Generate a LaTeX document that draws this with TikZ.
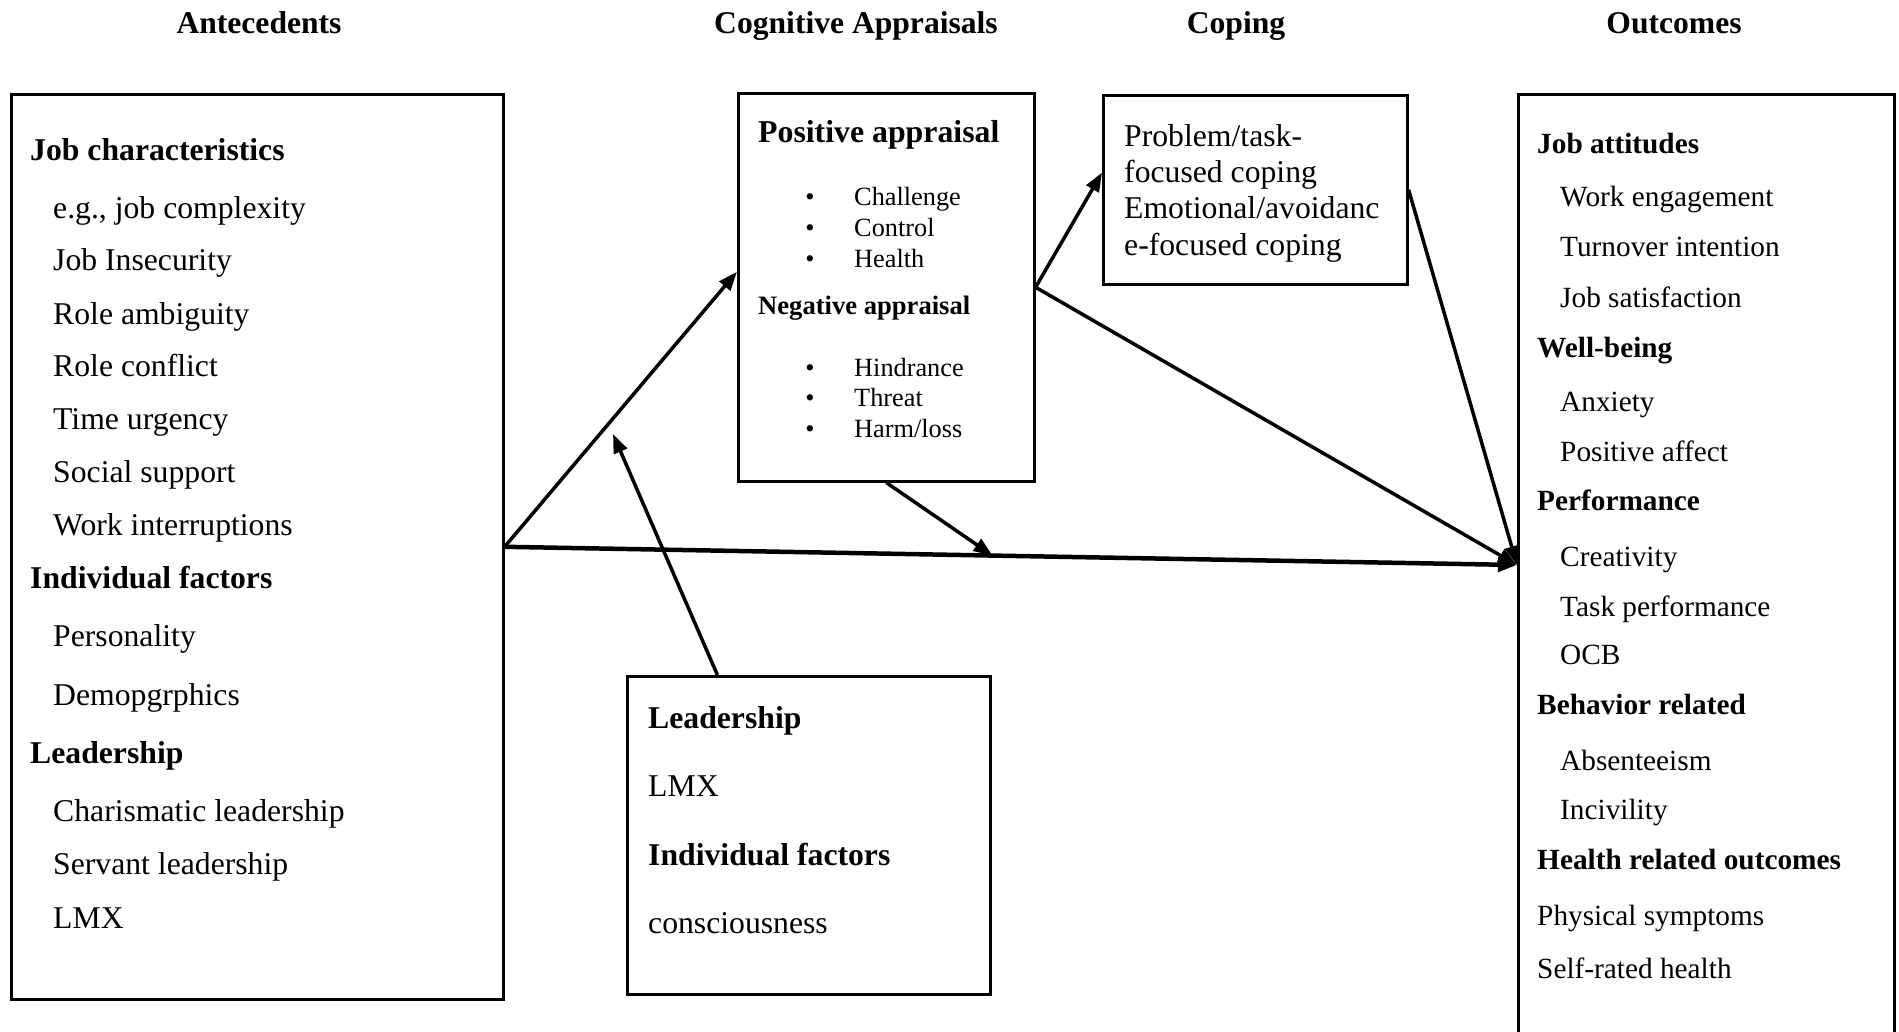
\documentclass[tikz,border=0pt]{standalone}
\usepackage{fontspec}
\setmainfont{Liberation Serif}
\usetikzlibrary{arrows.meta,calc}

\tikzset{
  box/.style={draw, line width=2.6pt, inner sep=0pt, anchor=north west},
  txt/.style={inner sep=0pt, anchor=west, text depth=0pt},
  heading/.style={inner sep=0pt, anchor=center, text height=22pt, text depth=0pt,
    font=\fontsize{31.6}{38}\selectfont\bfseries},
  bighead/.style={txt, text height=21pt, font=\fontsize{31.7}{38}\selectfont\bfseries},
  bigitem/.style={txt, text height=21pt, font=\fontsize{31.7}{38}\selectfont},
  outhead/.style={txt, text height=19pt, font=\fontsize{29.3}{35}\selectfont\bfseries},
  outitem/.style={txt, text height=19pt, font=\fontsize{29.3}{35}\selectfont},
  midhead/.style={txt, text height=17pt, font=\fontsize{26.6}{32}\selectfont\bfseries},
  miditem/.style={txt, text height=17pt, font=\fontsize{26.3}{32}\selectfont},
  dot/.style={inner sep=0pt, anchor=center, text height=17pt, text depth=0pt,
    font=\fontsize{26.3}{32}\selectfont},
  arr/.style={line width=3.5pt, -{Triangle[length=19pt,width=14pt]}}
}

\begin{document}
\begin{tikzpicture}[x=1pt,y=-1pt]
\useasboundingbox (0,0) rectangle (1899,1032);
\clip (0,0) rectangle (1899,1032);

% column headings
\node[heading] (h1) at (259,23) {Antecedents};
\node[heading] (h2) at (856,23) {Cognitive Appraisals};
\node[heading] (h3) at (1236,23) {Coping};
\node[heading] (h4) at (1674,23) {Outcomes};

% frames
\node[box, minimum width=492pt, minimum height=905pt] (ante) at (10,93) {};
\node[box, minimum width=296pt, minimum height=388pt] (cog) at (737,92) {};
\node[box, minimum width=304pt, minimum height=189pt] (cope) at (1102,94) {};
\node[box, minimum width=363pt, minimum height=318pt] (lead) at (626,675) {};
\node[box, minimum width=376pt, minimum height=1000pt] (outc) at (1517,93) {};

% antecedents
\node[bighead] (a1) at (30,150) {Job characteristics};
\node[bigitem] (a2) at (53,208) {e.g., job complexity};
\node[bigitem] (a3) at (53,260) {Job Insecurity};
\node[bigitem] (a4) at (53,314) {Role ambiguity};
\node[bigitem] (a5) at (53,366) {Role conflict};
\node[bigitem] (a6) at (53,419) {Time urgency};
\node[bigitem] (a7) at (53,472) {Social support};
\node[bigitem] (a8) at (53,525) {Work interruptions};
\node[bighead] (a9) at (30,578) {Individual factors};
\node[bigitem] (a10) at (53,636) {Personality};
\node[bigitem] (a11) at (53,695) {Demopgrphics};
\node[bighead] (a12) at (30,753) {Leadership};
\node[bigitem] (a13) at (53,811) {Charismatic leadership};
\node[bigitem] (a14) at (53,864) {Servant leadership};
\node[bigitem] (a15) at (53,918) {LMX};

% cognitive appraisals
\node[txt, text height=21pt, font=\fontsize{31.8}{38}\selectfont\bfseries] (c1) at (758,132) {Positive appraisal};
\node[dot] (b1) at (810,197) {•};
\node[miditem] (c2) at (854,197) {Challenge};
\node[dot] (b2) at (810,228) {•};
\node[miditem] (c3) at (854,228) {Control};
\node[dot] (b3) at (810,259) {•};
\node[miditem] (c4) at (854,259) {Health};
\node[midhead] (c5) at (758,306) {Negative appraisal};
\node[dot] (b4) at (810,368) {•};
\node[miditem] (c6) at (854,368) {Hindrance};
\node[dot] (b5) at (810,398) {•};
\node[miditem] (c7) at (854,398) {Threat};
\node[dot] (b6) at (810,429) {•};
\node[miditem] (c8) at (854,429) {Harm/loss};

% coping
\node[bigitem] (k1) at (1124,136) {Problem/task-};
\node[bigitem] (k2) at (1124,172) {focused coping};
\node[bigitem] (k3) at (1124,208) {Emotional/avoidanc};
\node[bigitem] (k4) at (1124,245) {e-focused coping};

% moderators
\node[bighead] (m1) at (648,718) {Leadership};
\node[bigitem] (m2) at (648,786) {LMX};
\node[bighead] (m3) at (648,855) {Individual factors};
\node[bigitem] (m4) at (648,923) {consciousness};

% outcomes
\node[outhead] (o1) at (1537,144) {Job attitudes};
\node[outitem] (o2) at (1560,197) {Work engagement};
\node[outitem] (o3) at (1560,247) {Turnover intention};
\node[outitem] (o4) at (1560,298) {Job satisfaction};
\node[outhead] (o5) at (1537,348) {Well-being};
\node[outitem] (o6) at (1560,402) {Anxiety};
\node[outitem] (o7) at (1560,452) {Positive affect};
\node[outhead] (o8) at (1537,501) {Performance};
\node[outitem] (o9) at (1560,557) {Creativity};
\node[outitem] (o10) at (1560,607) {Task performance};
\node[outitem] (o11) at (1560,655) {OCB};
\node[outhead] (o12) at (1537,705) {Behavior related};
\node[outitem] (o13) at (1560,761) {Absenteeism};
\node[outitem] (o14) at (1560,810) {Incivility};
\node[outhead] (o15) at (1537,860) {Health related outcomes};
\node[outitem] (o16) at (1537,916) {Physical symptoms};
\node[outitem] (o17) at (1537,969) {Self-rated health};

% connectors
\coordinate (conv) at ($(outc.north west)+(0,472)$);
\coordinate (modtip) at (613,434);
\draw[arr, line width=4.5pt] (ante.east) -- (conv) coordinate[pos=0.482] (mid);
\draw[arr] (ante.east) -- ($(cog.north west)!0.46!(cog.south west)$);
\draw[arr] (cog.east) -- ($(cope.north west)!0.41!(cope.south west)$);
\draw[arr] (cog.east) -- (conv);
\draw[arr] (cope.east) -- (conv);
\draw[arr] (cog.south) -- (mid);
\draw[arr] ($(lead.north west)!0.25!(lead.north east)$) -- (modtip);
\end{tikzpicture}
\end{document}
